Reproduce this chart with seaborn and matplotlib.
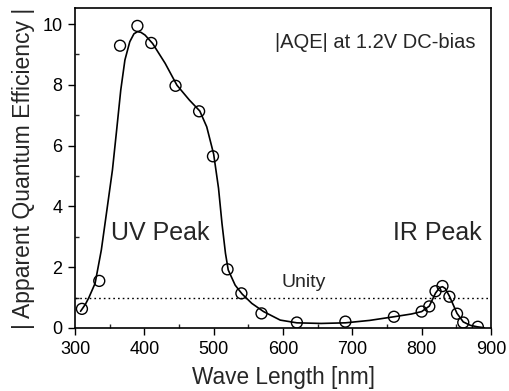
import matplotlib
matplotlib.use("Agg")
import matplotlib.pyplot as plt
from matplotlib.ticker import MultipleLocator
import seaborn as sns
import pandas as pd

# measured data points (open circles)
pt_wl = [310, 335, 365, 390, 410, 445, 479, 499, 520, 540, 569, 620, 690,
         760, 800, 811, 820, 830, 840, 851, 860, 881]
pt_aqe = [0.63, 1.55, 9.29, 9.94, 9.38, 7.97, 7.13, 5.65, 1.93, 1.14, 0.48,
          0.18, 0.21, 0.37, 0.54, 0.71, 1.21, 1.38, 1.03, 0.47, 0.18, 0.04]

# guide curve
cv_wl = [308, 315, 320, 329, 338, 346, 354, 360, 366, 372, 379, 385, 390, 395,
         401, 412, 430, 447, 465, 480, 490, 500, 507, 512, 517, 521, 531, 541,
         555, 572, 596, 620, 655, 690, 725, 760, 785, 800, 811, 820, 826, 830,
         834, 840, 851, 860, 870, 880, 890]
cv_aqe = [0.55, 0.78, 1.0, 1.47, 2.57, 3.88, 5.2, 6.5, 7.83, 8.82, 9.42, 9.68,
          9.75, 9.73, 9.64, 9.36, 8.71, 7.99, 7.5, 7.14, 6.62, 5.72, 4.6, 3.44,
          2.46, 1.91, 1.41, 1.12, 0.81, 0.54, 0.26, 0.17, 0.15, 0.17, 0.25,
          0.37, 0.46, 0.54, 0.72, 1.15, 1.33, 1.36, 1.3, 1.05, 0.48, 0.2,
          0.09, 0.04, 0.01]

unity = 1.0

sns.set_style("ticks")
plt.rcParams['font.family'] = ['Liberation Sans', 'DejaVu Sans']

fig = plt.figure(figsize=(5.09, 3.91), dpi=100)
ax = fig.add_axes([75/509, 63/391, 416/509, 320/391])

pts = pd.DataFrame({"wl": pt_wl, "aqe": pt_aqe})
cv = pd.DataFrame({"wl": cv_wl, "aqe": cv_aqe})

sns.lineplot(data=cv, x="wl", y="aqe", ax=ax, color="black", linewidth=1.2,
             sort=False)
ax.axhline(unity, color="black", linestyle=(0, (1.2, 2.2)), linewidth=1.0)
sns.scatterplot(data=pts, x="wl", y="aqe", ax=ax, marker="o", s=62,
                facecolor="none", edgecolor="black", linewidth=1.0, zorder=3)

ax.set_xlim(300, 900)
ax.set_ylim(0, 10.53)
ax.xaxis.set_major_locator(MultipleLocator(100))
ax.xaxis.set_minor_locator(MultipleLocator(50))
ax.yaxis.set_major_locator(MultipleLocator(2))
ax.yaxis.set_minor_locator(MultipleLocator(1))
ax.tick_params(which="major", direction="out", length=5, width=1.0,
               labelsize=13, colors="black", pad=4)
ax.tick_params(which="minor", direction="in", length=3, width=1.0)
for s in ax.spines.values():
    s.set_visible(True)
    s.set_linewidth(1.2)
    s.set_color("black")

ax.set_xlabel("Wave Length [nm]", fontsize=16.3, labelpad=6)
ax.set_ylabel("| Apparent Quantum Efficiency |", fontsize=16.5, labelpad=5)

ax.text(733, 9.41, "|AQE| at 1.2V DC-bias", fontsize=14.5, ha="center",
        va="center")
ax.text(423, 3.12, "UV Peak", fontsize=18, ha="center", va="center")
ax.text(823, 3.12, "IR Peak", fontsize=18, ha="center", va="center")
ax.text(630, 1.51, "Unity", fontsize=14, ha="center", va="center")

fig.savefig("out.png", dpi=100)
